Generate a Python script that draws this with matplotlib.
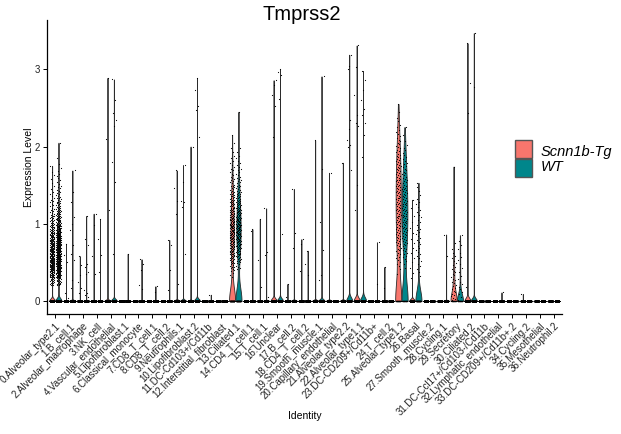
import numpy as np
import matplotlib
matplotlib.use("Agg")
import matplotlib.pyplot as plt
from matplotlib.patches import Rectangle

plt.rcParams['font.family'] = ['Liberation Sans', 'DejaVu Sans']

title = "Tmprss2"
categories = [
    "0.Alveolar_type2.1", "1.B_cell.1", "2.Alveolar_macrophage", "3.NK_cell",
    "4.Vascular_endothelial", "5.Lipofibroblast.1", "6.Classical_monocyte",
    "7.CD8_T_cell.1", "8.CD8_T_cell.2", "9.Neutrophils.1", "10.Lipofibroblast.2",
    "11.DC-Cd103+/Cd11b", "12.Interstitial_fibroblast", "13.Ciliated.1",
    "14.CD4_T_cell.1", "15.T_cell.1", "16.Unclear", "17.B_cell.2", "18.CD4_T_cell.2",
    "19.Smooth_muscle.1", "20.Capillary_endothelial", "21.Alveolar_type2.2",
    "22.Alveolar_type1.1", "23.DC-CD209+/Cd11b+", "24.T_cell.2", "25.Alveolar_type1.2",
    "26.Basal", "27.Smooth_muscle.2", "28.Cycling.1", "29.Secretory", "30.Ciliated.2",
    "31.DC-Ccl17+/Cd103-/Cd11b", "32.Lymphatic_endothelial", "33.DC-CD209+/Cd11b+.2",
    "34.Cycling.2", "35.Mesothelial", "36.Neutrophil.2",
]
groups = ["Scnn1b-Tg", "WT"]
group_colors = ["#F8766D", "#00868B"]

# number of cells with zero expression per identity
tg_zero = [5000, 3000, 2800, 2600, 2500, 2400, 2300, 2200, 2100, 2000, 1900, 1800, 1700,
           150, 1600, 1500, 1500, 1400, 1400, 1300, 1300, 1200, 1200, 1100, 1100, 60,
           1000, 1000, 900, 45, 900, 800, 800, 700, 700, 600, 600]
wt_zero = [5000, 3000, 2800, 2600, 2500, 2400, 2300, 2200, 2100, 2000, 1900, 1800, 1700,
           125, 1600, 1500, 1500, 1400, 1400, 1300, 1300, 1200, 1200, 1100, 1100, 50,
           120, 1000, 900, 50, 900, 800, 800, 700, 700, 600, 600]

# individual non-zero expression values (sparse identities)
tg_values = [
    [], [0.74, 0.6, 0.5, 0.1, 0.04], [0.58, 0.46, 0.33, 0.25, 0.17, 0.1],
    [1.13, 0.98, 0.58, 0.35], [2.89, 2.1, 1.18], [], [], [], [],
    [1.69, 1.46, 1.3, 1.13, 0.22], [2.0], [], [], [], [],
    [1.06, 0.53, 0.18], [2.86, 2.8, 2.67, 2.52, 2.13], [0.22, 0.05], [0.80, 0.74, 0.39],
    [2.08], [1.66], [1.79], [3.31, 3.03, 2.67, 2.41, 2.3, 2.26, 1.5, 1.18], [],
    [0.44, 0.17], [],
    [1.31, 1.2, 1.1, 1.02, 0.95, 0.88, 0.8, 0.75, 0.68, 0.62, 0.55, 0.5, 0.42, 0.36, 0.3],
    [], [], [1.74], [3.34, 2.82, 2.43, 0.18], [], [], [], [0.09], [], [],
]
wt_values = [
    [], [1.69, 1.41, 1.28, 1.09, 0.99, 0.92, 0.72, 0.61, 0.53, 0.27, 0.17],
    [1.10, 0.80, 0.72, 0.48, 0.44, 0.38, 0.35, 0.14, 0.1, 0.07, 0.05],
    [1.06, 0.8, 0.6, 0.38], [2.87, 2.6, 2.43, 2.35, 2.26, 1.8, 1.54, 0.61], [0.61],
    [0.54, 0.48, 0.4, 0.2, 0.16], [0.19, 0.12], [0.79, 0.72, 0.4, 0.14],
    [1.76, 1.54, 1.3, 1.28, 1.22, 0.61], [2.89, 2.73, 2.52, 2.47, 2.13], [0.08], [],
    [2.45], [0.93, 0.9], [1.2, 0.63, 0.6, 0.05], [3.0, 2.97, 2.93, 2.62, 0.87],
    [1.45, 0.88, 0.68], [0.65, 0.48, 0.33], [2.91, 1.71, 1.02, 0.66, 0.33, 0.27], [],
    [3.19, 3.04, 3.0, 2.34, 2.23, 2.08, 2.02, 2.0, 1.69, 0.55],
    [2.98, 2.86, 2.73, 2.6, 2.49, 2.41, 2.3, 2.15, 1.87], [0.76, 0.22], [], [], [1.53],
    [], [0.86, 0.58], [], [3.47, 2.77], [], [0.11], [], [], [], [],
]

# dense identities: cell counts per 0.1-wide expression bin, starting at 0
bin_width = 0.1
tg_hist = {
    0: [0, 0, 15, 30, 40, 40, 35, 30, 25, 18, 12, 8, 6, 4, 3, 2, 2, 1],
    13: [0, 0, 0, 4, 10, 15, 18, 20, 22, 22, 20, 18, 15, 12, 9, 7, 5, 4, 3, 2, 1, 1],
    25: [0, 0, 0, 1, 3, 5, 6, 7, 8, 8, 9, 9, 9, 9, 9, 9, 8, 8, 7, 6, 5, 4, 3, 2, 1, 1],
    29: [6, 5, 5, 5, 4, 3, 2, 1],
}
wt_hist = {
    0: [0, 0, 18, 35, 45, 50, 50, 45, 40, 32, 25, 18, 12, 9, 6, 4, 3, 2, 1, 0, 1],
    13: [0, 0, 0, 0, 6, 12, 18, 22, 24, 24, 22, 20, 16, 12, 9, 7, 5, 4, 3, 2],
    25: [0, 0, 0, 0, 2, 4, 6, 7, 8, 9, 9, 9, 9, 8, 8, 7, 6, 5, 4, 3, 2, 1, 1],
    26: [0, 0, 0, 2, 3, 3, 4, 4, 4, 4, 3, 3, 3, 2, 2],
    29: [3, 3, 3, 2, 2, 2, 2, 2, 1],
}


def expand_hist(counts):
    vals = []
    for b, c in enumerate(counts):
        for j in range(c):
            vals.append(b * bin_width + (j + 0.5) / c * bin_width)
    return vals


def nrd0_factor(kde):
    return 0.9 * kde.num_dp ** -0.2


fig = plt.figure(figsize=(6.21, 4.34), dpi=100)
ax = fig.add_axes([47 / 621, 1 - 314 / 434, (562 - 47) / 621, (314 - 20) / 434])

n_cat = len(categories)
offsets = [-0.23, 0.23]
vw = 0.44
jit = 0.34
golden = 0.6180339887

for gi, (zeros, values, hist) in enumerate([(tg_zero, tg_values, tg_hist),
                                             (wt_zero, wt_values, wt_hist)]):
    color = group_colors[gi]
    for ci in range(n_cat):
        vals = list(values[ci]) + expand_hist(hist.get(ci, []))
        data = np.concatenate([np.zeros(zeros[ci]), np.array(vals, dtype=float)])
        pos = ci + offsets[gi]
        if len(vals) > 0:
            parts = ax.violinplot([data], positions=[pos], widths=vw, showextrema=False,
                                  points=800, bw_method=nrd0_factor)
            for b in parts['bodies']:
                b.set_facecolor(color)
                b.set_edgecolor('#2b2b2b')
                b.set_linewidth(0.6)
                b.set_alpha(1)
                b.set_zorder(2)
        k = np.arange(len(data))
        xs = pos + ((k * golden + 0.37 * ci + 0.5 * gi) % 1.0 - 0.5) * jit
        ax.scatter(xs, data, s=0.7, c='black', linewidths=0, zorder=3)

ax.set_xlim(-0.6, n_cat - 0.4)
ax.set_ylim(-0.17, 3.64)
ax.set_xticks(range(n_cat))
ax.set_xticklabels(categories, rotation=45, ha='right', va='top',
                   rotation_mode='anchor', fontsize=7)
ax.set_yticks([0, 1, 2, 3])
ax.set_yticklabels(['0', '1', '2', '3'], fontsize=7)
ax.tick_params(axis='both', length=3, width=0.7, color='black', labelcolor='#222222', pad=2)
for side in ['top', 'right']:
    ax.spines[side].set_visible(False)
for side in ['left', 'bottom']:
    ax.spines[side].set_linewidth(0.9)
    ax.spines[side].set_color('black')

fig.text(302 / 621, 1 - 14.5 / 434, title, ha='center', va='center', fontsize=14.5)
fig.text(305 / 621, 1 - 416 / 434, "Identity", ha='center', va='center', fontsize=7.5)
fig.text(29 / 621, 1 - 167 / 434, "Expression Level", ha='center', va='center',
         rotation=90, fontsize=7.5)

# legend
box_y = [140, 159]
text_base = [156, 171]
for gi in range(2):
    fig.add_artist(Rectangle((515 / 621, 1 - (box_y[gi] + 18) / 434), 17 / 621, 18 / 434,
                             transform=fig.transFigure, facecolor=group_colors[gi],
                             edgecolor='#555555', linewidth=1.0))
    fig.text(540.5 / 621, 1 - text_base[gi] / 434, groups[gi], ha='left', va='baseline',
             fontsize=10.5, style='italic')

fig.savefig("out.png", dpi=100)
